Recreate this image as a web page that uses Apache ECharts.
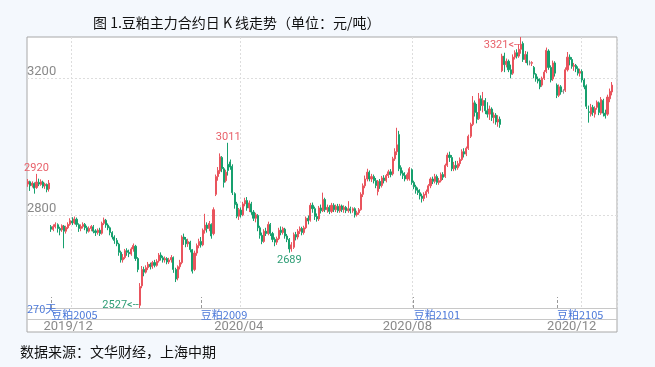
<!DOCTYPE html>
<html><head><meta charset="utf-8">
<script src="https://cdn.jsdelivr.net/npm/echarts@6/dist/echarts.min.js"></script>
<style>html,body{margin:0;padding:0;background:#f4f8fd;}#c{width:655px;height:367px;}</style>
</head><body><div id="c"></div>
<script>
const titleText = '图 1.豆粕主力合约日 K 线走势（单位：元/吨）';
const sourceText = '数据来源：文华财经，上海中期';
const cornerText = '270天';
const startDate = '2019-11-01';
const endDate = '2020-12-23';
const holidays = ['2020-01-01','2020-01-24','2020-01-27','2020-01-28','2020-01-29','2020-01-30','2020-01-31',
  '2020-04-06','2020-05-01','2020-05-04','2020-05-05','2020-06-25','2020-06-26',
  '2020-10-01','2020-10-02','2020-10-05','2020-10-06','2020-10-07','2020-10-08'];
const contractNames = ['豆粕2001','豆粕2005','豆粕2009','豆粕2101','豆粕2105'];
// [open, close, low, high]
const k2001 = [[2890,2898,2882,2905],[2897,2885,2870,2900],[2886,2893,2880,2898],[2892,2878,2862,2895],[2880,2896,2876,2920],
[2895,2890,2884,2906],[2889,2897,2885,2904],[2896,2884,2878,2900],[2885,2890,2876,2894],[2889,2874,2866,2892],[2876,2893,2868,2902]];
const k2005 = [[2765,2758,2750,2770],[2757,2766,2752,2772],[2765,2772,2760,2778],[2771,2760,2748,2775],[2760,2755,2740,2765],
[2756,2768,2750,2772],[2767,2752,2702,2770],[2752,2763,2745,2768],[2762,2772,2758,2778],[2772,2783,2768,2790],
[2782,2776,2770,2793],[2776,2788,2772,2795],[2787,2772,2765,2792],[2771,2760,2750,2775],[2760,2766,2752,2772],
[2766,2772,2760,2778],[2772,2762,2755,2776],[2762,2752,2745,2768],[2752,2760,2748,2766],[2760,2766,2752,2770],
[2765,2752,2746,2770],[2753,2748,2738,2758],[2748,2755,2742,2760],[2755,2745,2738,2762],[2746,2775,2742,2780],
[2775,2785,2770,2792],[2784,2770,2762,2788],[2770,2762,2755,2775],[2762,2748,2740,2766],[2748,2735,2728,2752],
[2735,2725,2715,2740],[2725,2715,2708,2732],[2714,2690,2680,2718],[2690,2668,2660,2695],[2668,2675,2660,2685],
[2675,2695,2670,2700],[2695,2690,2680,2702],[2690,2686,2676,2698],[2685,2700,2680,2705],[2700,2710,2692,2716],
[2708,2672,2665,2712],[2672,2640,2632,2676],[2535,2590,2527,2600],[2592,2640,2585,2650],[2640,2632,2620,2648],
[2632,2645,2628,2652],[2645,2655,2638,2662],[2655,2648,2640,2660],[2648,2660,2642,2665],[2660,2652,2646,2668],
[2652,2664,2648,2670],[2665,2682,2660,2688],[2682,2674,2666,2690],[2674,2668,2660,2680],[2668,2672,2660,2678],
[2672,2662,2655,2676],[2662,2668,2656,2674],[2668,2675,2660,2682],[2675,2640,2630,2678],[2640,2612,2603,2645],
[2615,2648,2608,2652],[2648,2660,2640,2668],[2660,2735,2655,2740],[2735,2728,2712,2745],[2728,2715,2705,2735],
[2715,2722,2706,2730],[2720,2698,2690,2724],[2698,2635,2628,2700],[2640,2688,2635,2695],[2688,2710,2680,2716],
[2710,2722,2702,2730]];
const k2009 = [[2722,2712,2704,2735],[2712,2755,2708,2760],[2755,2770,2745,2803],[2770,2760,2748,2778],[2760,2775,2752,2782],
[2772,2738,2730,2775],[2745,2815,2740,2822],[2860,2912,2855,2918],[2912,2930,2900,2940],[2928,2970,2920,2980],
[2968,2935,2925,2972],[2935,2895,2880,2940],[2900,2925,2895,2932],[2948,2930,2915,3011],[2955,2940,2932,2962],
[2942,2865,2858,2948],[2862,2830,2818,2866],[2832,2796,2790,2838],[2796,2815,2785,2820],[2814,2800,2792,2822],
[2800,2832,2796,2838],[2832,2842,2825,2850],[2842,2820,2812,2852],[2820,2835,2808,2842],[2832,2808,2800,2838],
[2808,2790,2782,2814],[2790,2800,2778,2806],[2798,2762,2752,2802],[2762,2740,2730,2768],[2740,2722,2714,2748],
[2722,2752,2718,2758],[2752,2745,2738,2762],[2745,2772,2740,2780],[2772,2745,2738,2776],[2745,2728,2720,2750],
[2728,2720,2708,2734],[2720,2730,2712,2736],[2730,2755,2726,2762],[2755,2748,2740,2766],[2748,2760,2742,2765],
[2758,2738,2730,2762],[2738,2728,2720,2744],[2728,2700,2689,2732],[2700,2712,2692,2720],[2705,2742,2700,2748],
[2742,2735,2725,2750],[2735,2752,2728,2758],[2752,2760,2744,2766],[2760,2748,2740,2765],[2748,2762,2742,2768],
[2762,2790,2758,2795],[2790,2782,2772,2798],[2784,2828,2780,2835],[2828,2818,2806,2836],[2818,2795,2785,2824],
[2795,2788,2780,2804],[2788,2820,2782,2826],[2820,2812,2804,2830],[2812,2845,2808,2865],[2845,2815,2808,2850],
[2815,2822,2806,2830],[2822,2810,2802,2828],[2810,2828,2805,2835],[2828,2815,2808,2834],[2815,2825,2808,2830],
[2825,2812,2806,2832],[2812,2826,2806,2832],[2826,2815,2808,2830],[2815,2822,2806,2828],[2822,2812,2805,2826],
[2812,2818,2806,2840],[2818,2812,2804,2824],[2812,2818,2806,2822],[2818,2800,2792,2822],[2800,2806,2795,2812],
[2806,2815,2800,2820],[2815,2860,2812,2866],[2860,2885,2852,2892],[2885,2905,2878,2915],[2905,2925,2898,2935],
[2925,2905,2898,2930],[2905,2912,2896,2920],[2912,2900,2892,2918],[2900,2886,2878,2908],[2868,2898,2857,2902],
[2898,2885,2876,2905],[2886,2908,2880,2914],[2908,2900,2892,2916],[2900,2915,2895,2920],[2915,2926,2908,2932],
[2926,2918,2910,2934],[2920,2964,2915,2970],[2964,2985,2958,2995],[2985,3005,2975,3055],[3035,2935,2928,3046],
[2938,2922,2915,2945],[2922,2915,2905,2930],[2915,2905,2898,2925],[2905,2918,2900,2924],[2905,2935,2900,2940],
[2932,2895,2888,2936]];
const k2101 = [[2895,2882,2875,2900],[2882,2872,2862,2888],[2872,2865,2858,2880],[2865,2855,2845,2875],[2855,2848,2836,2862],
[2848,2860,2840,2866],[2858,2868,2850,2874],[2868,2885,2862,2890],[2885,2905,2878,2910],[2905,2898,2890,2912],
[2898,2912,2892,2920],[2912,2895,2888,2918],[2895,2900,2888,2908],[2900,2918,2895,2924],[2918,2910,2902,2925],
[2912,2945,2908,2950],[2945,2975,2940,2982],[2975,2968,2955,2985],[2968,2935,2928,2975],[2935,2945,2928,2955],
[2945,2938,2930,2958],[2938,2950,2932,2958],[2950,2962,2942,2968],[2962,2985,2958,2992],[2985,2978,2968,2995],
[2978,2995,2972,3000],[2995,3030,2990,3035],[3030,3065,3025,3070],[3065,3128,3060,3148],[3128,3100,3088,3135],
[3100,3080,3068,3125],[3082,3140,3078,3157],[3140,3120,3105,3150],[3120,3135,3100,3160],[3135,3105,3095,3142],
[3105,3095,3085,3130],[3095,3110,3078,3120],[3110,3085,3075,3115],[3085,3092,3068,3100],[3092,3072,3064,3098],
[3072,3080,3058,3092],[3080,3065,3055,3088],[3222,3265,3218,3272],[3265,3240,3218,3275],[3240,3250,3232,3258],
[3250,3225,3218,3255],[3225,3212,3200,3240],[3215,3262,3210,3270],[3262,3275,3255,3282],[3275,3265,3258,3285],
[3265,3285,3260,3300],[3285,3300,3272,3321],[3302,3255,3248,3308],[3255,3270,3245,3280],[3270,3245,3238,3278],
[3245,3245,3238,3252],[3244,3246,3236,3250],[3232,3212,3200,3236],[3212,3198,3190,3215],[3198,3192,3185,3205],
[3195,3175,3168,3200],[3180,3200,3175,3205],[3200,3218,3195,3224],[3220,3282,3215,3290],[3280,3232,3225,3285],
[3232,3195,3188,3238],[3198,3245,3192,3252],[3245,3215,3205,3250]];
const k2105 = [[3180,3150,3142,3185],[3150,3175,3145,3182],[3175,3160,3152,3180],[3162,3162,3155,3168],[3165,3225,3160,3232],
[3225,3262,3220,3277],[3262,3255,3238,3270],[3255,3235,3228,3262],[3235,3238,3222,3245],[3238,3228,3218,3242],
[3228,3215,3208,3235],[3215,3220,3205,3228],[3220,3195,3188,3226],[3195,3175,3168,3200],[3178,3118,3110,3182],
[3102,3100,3070,3120],[3095,3115,3088,3125],[3115,3100,3090,3122],[3095,3112,3085,3118],[3115,3130,3108,3135],
[3128,3100,3092,3132],[3098,3138,3093,3145],[3135,3098,3088,3140],[3098,3090,3082,3108],[3095,3145,3090,3152],
[3140,3162,3130,3170],[3160,3180,3150,3189]];
const yTickValues = [2800, 3200];
const gridMonths = ['2019-12', '2020-04', '2020-08', '2020-12'];
const monthLabels = ['2019/12', '2020/04', '2020/08', '2020/12'];
const monthLabelIdx = [19, 100, 180, 258];
// markers: candle index, which extreme, arrow suffix
const markerIdx = [4, 53, 95, 124, 234];
const markerKind = ['high', 'low', 'high', 'low', 'high'];
const markerArrow = [false, true, false, false, true];

function tradingDays(s, e, hol) {
  const out = [];
  const d = new Date(s + 'T00:00:00Z');
  const end = new Date(e + 'T00:00:00Z');
  while (d <= end) {
    const wd = d.getUTCDay();
    const str = d.toISOString().slice(0, 10);
    if (wd !== 0 && wd !== 6 && hol.indexOf(str) < 0) out.push(str);
    d.setUTCDate(d.getUTCDate() + 1);
  }
  return out;
}
const dates = tradingDays(startDate, endDate, holidays);
const segments = [k2001, k2005, k2009, k2101, k2105];
const segStarts = [];
let acc = 0;
segments.forEach(s => { segStarts.push(acc); acc += s.length; });
const kData = [].concat(...segments);
const switchIdx = segStarts.slice(1);
const gridIdx = gridMonths.map(m => dates.findIndex(d => d.indexOf(m) === 0));
const yMin = Math.min(...kData.map(d => d[2]));
const yMax = Math.max(...kData.map(d => d[3]));

const RED = '#e9545d', GREEN = '#17a06e';
const markData = markerIdx.map((idx, k) => {
  const isHigh = markerKind[k] === 'high';
  const v = isHigh ? kData[idx][3] : kData[idx][2];
  const col = isHigh ? '#e8616a' : '#2e9d75';
  const txt = v + (markerArrow[k] ? '<--' : '');
  let label;
  if (markerArrow[k]) {
    label = {show: true, formatter: txt, position: 'left', distance: 1, offset: [0, isHigh ? 8 : -3], color: col, fontSize: 11, fontFamily: 'Roboto'};
  } else {
    label = {show: true, formatter: txt, position: isHigh ? 'top' : 'bottom', distance: isHigh ? 0 : 2, color: col, fontSize: 11, fontFamily: 'Roboto'};
  }
  return {coord: [dates[idx], v], value: v, symbol: 'circle', symbolSize: 0, label: label};
});

const chart = echarts.init(document.getElementById('c'), null, {renderer: 'canvas'});
chart.setOption({
  animation: false,
  backgroundColor: 'transparent',
  title: [
    {text: titleText, left: 93, top: 16, padding: 0, textStyle: {fontSize: 14, fontWeight: 'normal', color: '#111', fontFamily: 'Noto Sans CJK SC'}},
    {text: sourceText, left: 20, top: 345, padding: 0, textStyle: {fontSize: 14, fontWeight: 'normal', color: '#111', fontFamily: 'Noto Sans CJK SC'}}
  ],
  graphic: [
    {type: 'text', left: 27, top: 303, z: 20, style: {text: cornerText, fill: '#4b78d9', fontSize: 11, fontFamily: 'Noto Sans CJK SC'}}
  ],
  grid: [
    {left: 27, top: 37, width: 590, height: 271, show: false, outerBoundsMode: 'none'},
    {left: 27, top: 37, width: 590, height: 295, show: true, backgroundColor: '#ffffff', borderColor: '#a8a8a8', borderWidth: 1, z: -1, outerBoundsMode: 'none'}
  ],
  xAxis: [
    {
      type: 'category', gridIndex: 0, data: dates, boundaryGap: true, position: 'bottom',
      axisLine: {show: true, lineStyle: {color: '#c8c8c8'}},
      axisTick: {show: true, inside: true, length: 11, alignWithLabel: true, interval: (i) => switchIdx.indexOf(i) >= 0, lineStyle: {color: '#999', type: [3, 2]}},
      axisLabel: {show: true, interval: (i) => switchIdx.indexOf(i) >= 0,
        formatter: (v, i) => { const s = segStarts.indexOf(i); return s >= 0 ? contractNames[s] : ''; },
        align: 'left', color: '#4b78d9', fontSize: 11, margin: 1, fontFamily: 'Noto Sans CJK SC'},
      splitLine: {show: true, interval: (i) => gridIdx.indexOf(i) >= 0, lineStyle: {color: '#dddddd', type: [2, 2]}}
    },
    {
      type: 'category', gridIndex: 0, data: dates, boundaryGap: true, position: 'bottom', offset: 11,
      axisLine: {show: true, lineStyle: {color: '#c8c8c8'}},
      axisTick: {show: false},
      axisLabel: {show: true, interval: (i) => monthLabelIdx.indexOf(i) >= 0,
        formatter: (v, i) => { const s = monthLabelIdx.indexOf(i); return s >= 0 ? monthLabels[s] : ''; },
        color: '#8a8a8a', fontSize: 13, margin: 1, fontFamily: 'Roboto'},
      splitLine: {show: false}
    },
    {type: 'value', gridIndex: 1, show: false}
  ],
  yAxis: [
    {
      type: 'value', gridIndex: 0, min: yMin, max: yMax, position: 'left',
      axisLine: {show: false},
      axisTick: {show: false, customValues: yTickValues},
      axisLabel: {inside: true, customValues: yTickValues, formatter: (v) => String(v), verticalAlign: 'bottom', align: 'left', color: '#8a8a8a', fontSize: 13, margin: 0, fontFamily: 'Roboto'},
      splitLine: {show: true, lineStyle: {color: '#dddddd', type: [2, 2]}}
    },
    {type: 'value', gridIndex: 1, show: false}
  ],
  series: [{
    type: 'candlestick',
    xAxisIndex: 0, yAxisIndex: 0,
    data: kData,
    barWidth: '75%',
    itemStyle: {color: RED, color0: GREEN, borderColor: RED, borderColor0: GREEN, borderColorDoji: '#888888', borderWidth: 1},
    markPoint: {symbol: 'circle', symbolSize: 0, data: markData, animation: false}
  }]
});
</script></body></html>
